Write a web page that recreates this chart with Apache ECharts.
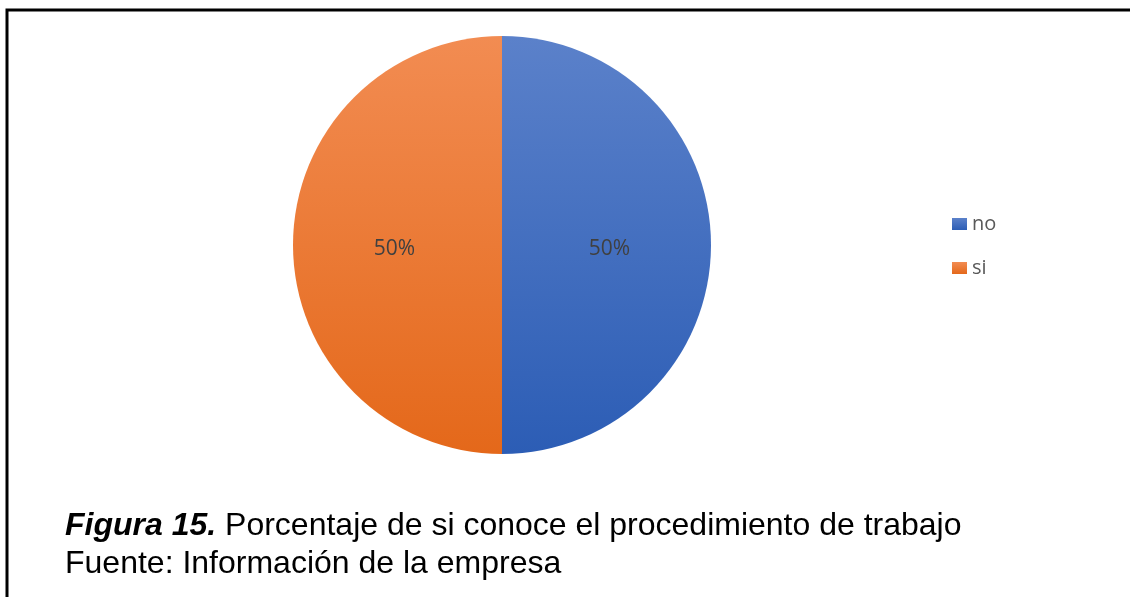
<!DOCTYPE html>
<html>
<head>
<meta charset="utf-8">
<script src="https://cdn.jsdelivr.net/npm/echarts@6/dist/echarts.min.js"></script>
<style>
  html, body { margin: 0; padding: 0; background: #fff; }
  #chart { width: 1130px; height: 597px; }
</style>
</head>
<body>
<div id="chart"></div>
<script>
// answers and counts (equal split)
var categories = ['no', 'si']
var values = [1, 1]
var topColors = ['#5b81ca', '#f28c52']
var bottomColors = ['#2c5db5', '#e4681a']
var captionBold = 'Figura 15.'
var captionRest = ' Porcentaje de si conoce el procedimiento de trabajo'
var captionSource = 'Fuente: Información de la empresa'

var myChart = echarts.init(document.getElementById('chart'))

function grad (i) {
  return new echarts.graphic.LinearGradient(0, 0, 0, 1, [
    {offset: 0, color: topColors[i]},
    {offset: 1, color: bottomColors[i]}
  ])
}

var pieData = categories.map(function (c, i) {
  return {name: c, value: values[i], itemStyle: {color: grad(i)}}
})

myChart.setOption({
  animation: false,
  title: {
    left: 65,
    top: 507,
    padding: 0,
    text: '{b|' + captionBold + '}{n|' + captionRest + '}\n{n|' + captionSource + '}',
    textStyle: {
      fontWeight: 'normal',
      rich: {
        b: {fontFamily: 'Liberation Sans', fontSize: 32, fontWeight: 'bold', fontStyle: 'italic', color: '#000', lineHeight: 38},
        n: {fontFamily: 'Liberation Sans', fontSize: 32, fontWeight: 'normal', color: '#000', lineHeight: 38}
      }
    }
  },
  legend: {
    orient: 'vertical',
    left: 952,
    top: 214,
    padding: 0,
    icon: 'rect',
    itemWidth: 15,
    itemHeight: 12,
    itemGap: 24,
    textStyle: {fontFamily: 'Open Sans', fontSize: 20, color: '#595959'},
    data: categories.map(function (c, i) {
      return {name: c, itemStyle: {color: grad(i)}}
    })
  },
  graphic: [
    {
      type: 'rect',
      shape: {x: 7, y: 10, width: 1200, height: 700},
      style: {fill: 'none', stroke: '#000', lineWidth: 3},
      silent: true
    }
  ],
  series: [
    {
      type: 'pie',
      center: [502, 245],
      radius: 209,
      startAngle: 90,
      percentPrecision: 0,
      label: {
        position: 'inner',
        formatter: '{p|{d}%}',
        rich: {
          p: {
            fontFamily: 'Open Sans',
            fontSize: 21,
            color: '#404040',
            padding: [8, 0, 0, 0]
          }
        }
      },
      labelLine: {show: false},
      data: pieData
    }
  ]
})
</script>
</body>
</html>
